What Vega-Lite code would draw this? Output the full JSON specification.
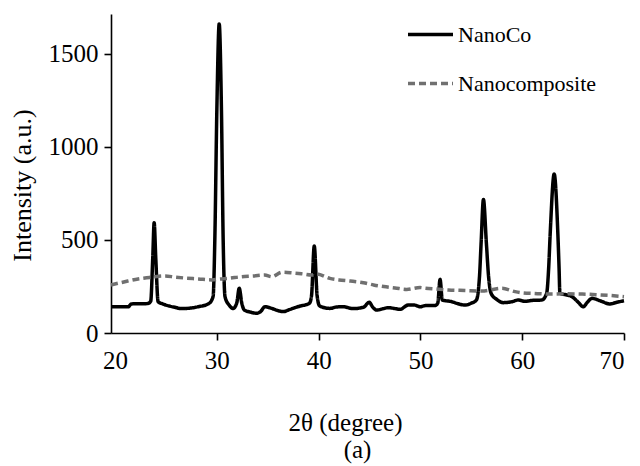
{
  "$schema": "https://vega.github.io/schema/vega-lite/v6.json",
  "width": 513,
  "height": 319,
  "autosize": {"type": "none"},
  "padding": {"left": 111, "top": 14, "right": 16, "bottom": 133},
  "background": "white",
  "title": {"text": "(a)", "orient": "bottom", "anchor": "middle", "frame": "group", "dx": -10, "offset": 3, "font": "Liberation Serif", "fontSize": 25, "fontWeight": "normal", "color": "black"},
  "config": {
    "font": "Liberation Serif",
    "view": {"stroke": null},
    "axis": {"grid": false, "domainColor": "black", "domainWidth": 1.6, "tickColor": "black", "tickWidth": 1.6, "tickSize": 7, "labelFont": "Liberation Serif", "labelFontSize": 25, "labelColor": "black", "titleFont": "Liberation Serif", "titleFontWeight": "normal", "titleColor": "black"},
    "axisX": {"labelFont": "Liberation Serif", "titleFont": "Liberation Serif"},
    "axisY": {"labelFont": "Liberation Serif", "titleFont": "Liberation Serif"},
    "legend": {"labelFont": "Liberation Serif", "titleFont": "Liberation Serif"},
    "title": {"font": "Liberation Serif"}
  },
  "data": {"values": [
    {"x": 19.6, "y": 141, "s": "NanoCo"},
    {"x": 21.3, "y": 141, "s": "NanoCo"},
    {"x": 21.6, "y": 156, "s": "NanoCo"},
    {"x": 23.2, "y": 158, "s": "NanoCo"},
    {"x": 23.5, "y": 170, "s": "NanoCo"},
    {"x": 23.7, "y": 400, "s": "NanoCo"},
    {"x": 23.84, "y": 592, "s": "NanoCo"},
    {"x": 24.0, "y": 400, "s": "NanoCo"},
    {"x": 24.23, "y": 168, "s": "NanoCo"},
    {"x": 24.7, "y": 156, "s": "NanoCo"},
    {"x": 25.3, "y": 145, "s": "NanoCo"},
    {"x": 25.87, "y": 138, "s": "NanoCo"},
    {"x": 26.5, "y": 131, "s": "NanoCo"},
    {"x": 27.3, "y": 133, "s": "NanoCo"},
    {"x": 28.16, "y": 141, "s": "NanoCo"},
    {"x": 29.15, "y": 156, "s": "NanoCo"},
    {"x": 29.5, "y": 177, "s": "NanoCo"},
    {"x": 29.64, "y": 200, "s": "NanoCo"},
    {"x": 29.8, "y": 500, "s": "NanoCo"},
    {"x": 30.0, "y": 1200, "s": "NanoCo"},
    {"x": 30.23, "y": 1659, "s": "NanoCo"},
    {"x": 30.45, "y": 1200, "s": "NanoCo"},
    {"x": 30.62, "y": 500, "s": "NanoCo"},
    {"x": 30.8, "y": 195, "s": "NanoCo"},
    {"x": 31.2, "y": 150, "s": "NanoCo"},
    {"x": 31.6, "y": 132, "s": "NanoCo"},
    {"x": 31.95, "y": 160, "s": "NanoCo"},
    {"x": 32.2, "y": 240, "s": "NanoCo"},
    {"x": 32.45, "y": 160, "s": "NanoCo"},
    {"x": 32.7, "y": 123, "s": "NanoCo"},
    {"x": 33.3, "y": 112, "s": "NanoCo"},
    {"x": 33.9, "y": 106, "s": "NanoCo"},
    {"x": 34.3, "y": 115, "s": "NanoCo"},
    {"x": 34.72, "y": 141, "s": "NanoCo"},
    {"x": 35.4, "y": 132, "s": "NanoCo"},
    {"x": 36.0, "y": 120, "s": "NanoCo"},
    {"x": 36.55, "y": 115, "s": "NanoCo"},
    {"x": 37.1, "y": 125, "s": "NanoCo"},
    {"x": 37.67, "y": 136, "s": "NanoCo"},
    {"x": 38.2, "y": 145, "s": "NanoCo"},
    {"x": 38.65, "y": 150, "s": "NanoCo"},
    {"x": 39.1, "y": 160, "s": "NanoCo"},
    {"x": 39.3, "y": 200, "s": "NanoCo"},
    {"x": 39.57, "y": 467, "s": "NanoCo"},
    {"x": 39.85, "y": 200, "s": "NanoCo"},
    {"x": 40.1, "y": 145, "s": "NanoCo"},
    {"x": 41.1, "y": 132, "s": "NanoCo"},
    {"x": 41.8, "y": 140, "s": "NanoCo"},
    {"x": 42.4, "y": 141, "s": "NanoCo"},
    {"x": 43.4, "y": 131, "s": "NanoCo"},
    {"x": 44.4, "y": 138, "s": "NanoCo"},
    {"x": 44.97, "y": 165, "s": "NanoCo"},
    {"x": 45.3, "y": 140, "s": "NanoCo"},
    {"x": 45.7, "y": 123, "s": "NanoCo"},
    {"x": 46.3, "y": 130, "s": "NanoCo"},
    {"x": 46.85, "y": 136, "s": "NanoCo"},
    {"x": 47.4, "y": 132, "s": "NanoCo"},
    {"x": 48.0, "y": 127, "s": "NanoCo"},
    {"x": 48.8, "y": 150, "s": "NanoCo"},
    {"x": 49.4, "y": 150, "s": "NanoCo"},
    {"x": 49.96, "y": 141, "s": "NanoCo"},
    {"x": 50.5, "y": 147, "s": "NanoCo"},
    {"x": 51.43, "y": 147, "s": "NanoCo"},
    {"x": 51.7, "y": 160, "s": "NanoCo"},
    {"x": 51.93, "y": 288, "s": "NanoCo"},
    {"x": 52.15, "y": 177, "s": "NanoCo"},
    {"x": 53.08, "y": 168, "s": "NanoCo"},
    {"x": 53.7, "y": 157, "s": "NanoCo"},
    {"x": 54.39, "y": 150, "s": "NanoCo"},
    {"x": 55.0, "y": 160, "s": "NanoCo"},
    {"x": 55.5, "y": 177, "s": "NanoCo"},
    {"x": 55.8, "y": 300, "s": "NanoCo"},
    {"x": 55.96, "y": 481, "s": "NanoCo"},
    {"x": 56.19, "y": 717, "s": "NanoCo"},
    {"x": 56.48, "y": 481, "s": "NanoCo"},
    {"x": 56.7, "y": 300, "s": "NanoCo"},
    {"x": 56.94, "y": 213, "s": "NanoCo"},
    {"x": 57.5, "y": 180, "s": "NanoCo"},
    {"x": 58.15, "y": 163, "s": "NanoCo"},
    {"x": 59.0, "y": 168, "s": "NanoCo"},
    {"x": 59.6, "y": 177, "s": "NanoCo"},
    {"x": 60.3, "y": 170, "s": "NanoCo"},
    {"x": 61.0, "y": 175, "s": "NanoCo"},
    {"x": 61.93, "y": 177, "s": "NanoCo"},
    {"x": 62.4, "y": 213, "s": "NanoCo"},
    {"x": 62.6, "y": 350, "s": "NanoCo"},
    {"x": 62.75, "y": 535, "s": "NanoCo"},
    {"x": 63.14, "y": 853, "s": "NanoCo"},
    {"x": 63.5, "y": 535, "s": "NanoCo"},
    {"x": 63.62, "y": 350, "s": "NanoCo"},
    {"x": 63.7, "y": 213, "s": "NanoCo"},
    {"x": 64.3, "y": 205, "s": "NanoCo"},
    {"x": 64.9, "y": 195, "s": "NanoCo"},
    {"x": 65.5, "y": 165, "s": "NanoCo"},
    {"x": 66.0, "y": 141, "s": "NanoCo"},
    {"x": 66.4, "y": 165, "s": "NanoCo"},
    {"x": 66.85, "y": 186, "s": "NanoCo"},
    {"x": 67.7, "y": 172, "s": "NanoCo"},
    {"x": 68.6, "y": 156, "s": "NanoCo"},
    {"x": 69.3, "y": 165, "s": "NanoCo"},
    {"x": 70.0, "y": 173, "s": "NanoCo"},
    {"x": 19.6, "y": 258, "s": "Nanocomposite"},
    {"x": 20.95, "y": 275, "s": "Nanocomposite"},
    {"x": 22.26, "y": 290, "s": "Nanocomposite"},
    {"x": 23.1, "y": 296, "s": "Nanocomposite"},
    {"x": 23.9, "y": 302, "s": "Nanocomposite"},
    {"x": 24.9, "y": 306, "s": "Nanocomposite"},
    {"x": 25.9, "y": 300, "s": "Nanocomposite"},
    {"x": 26.85, "y": 295, "s": "Nanocomposite"},
    {"x": 28.2, "y": 290, "s": "Nanocomposite"},
    {"x": 29.5, "y": 285, "s": "Nanocomposite"},
    {"x": 30.3, "y": 290, "s": "Nanocomposite"},
    {"x": 31.1, "y": 293, "s": "Nanocomposite"},
    {"x": 32.4, "y": 302, "s": "Nanocomposite"},
    {"x": 33.6, "y": 306, "s": "Nanocomposite"},
    {"x": 34.7, "y": 311, "s": "Nanocomposite"},
    {"x": 35.4, "y": 302, "s": "Nanocomposite"},
    {"x": 36.4, "y": 326, "s": "Nanocomposite"},
    {"x": 37.5, "y": 322, "s": "Nanocomposite"},
    {"x": 38.3, "y": 318, "s": "Nanocomposite"},
    {"x": 39.3, "y": 311, "s": "Nanocomposite"},
    {"x": 39.8, "y": 317, "s": "Nanocomposite"},
    {"x": 41.1, "y": 293, "s": "Nanocomposite"},
    {"x": 42.0, "y": 285, "s": "Nanocomposite"},
    {"x": 43.1, "y": 279, "s": "Nanocomposite"},
    {"x": 44.4, "y": 270, "s": "Nanocomposite"},
    {"x": 45.4, "y": 258, "s": "Nanocomposite"},
    {"x": 46.4, "y": 249, "s": "Nanocomposite"},
    {"x": 47.5, "y": 242, "s": "Nanocomposite"},
    {"x": 48.65, "y": 234, "s": "Nanocomposite"},
    {"x": 49.96, "y": 244, "s": "Nanocomposite"},
    {"x": 50.5, "y": 240, "s": "Nanocomposite"},
    {"x": 51.5, "y": 236, "s": "Nanocomposite"},
    {"x": 52.75, "y": 231, "s": "Nanocomposite"},
    {"x": 54.4, "y": 228, "s": "Nanocomposite"},
    {"x": 56.0, "y": 225, "s": "Nanocomposite"},
    {"x": 58.0, "y": 240, "s": "Nanocomposite"},
    {"x": 59.3, "y": 222, "s": "Nanocomposite"},
    {"x": 59.96, "y": 216, "s": "Nanocomposite"},
    {"x": 61.2, "y": 212, "s": "Nanocomposite"},
    {"x": 62.6, "y": 209, "s": "Nanocomposite"},
    {"x": 64.2, "y": 210, "s": "Nanocomposite"},
    {"x": 65.9, "y": 209, "s": "Nanocomposite"},
    {"x": 67.5, "y": 205, "s": "Nanocomposite"},
    {"x": 69.0, "y": 200, "s": "Nanocomposite"},
    {"x": 70.0, "y": 195, "s": "Nanocomposite"}
  ]},
  "mark": {"type": "line", "strokeWidth": 3.5, "interpolate": "monotone"},
  "encoding": {
    "x": {"field": "x", "type": "quantitative", "scale": {"domain": [19.6, 70], "nice": false, "zero": false},
      "axis": {"values": [20, 30, 40, 50, 60, 70], "format": "d", "labelFont": "Liberation Serif", "labelPadding": 8, "tickOpacity": {"condition": {"test": "datum.value == 20", "value": 0}, "value": 1},
        "title": "2θ (degree)", "titleFont": "Liberation Serif", "titleFontSize": 25, "titleX": 234, "titleY": 89, "titleBaseline": "middle", "titleAlign": "center"}},
    "y": {"field": "y", "type": "quantitative", "scale": {"domain": [0, 1712], "nice": false},
      "axis": {"values": [0, 500, 1000, 1500], "format": "d", "labelFont": "Liberation Serif", "labelPadding": 6, "title": "Intensity (a.u.)", "titleFont": "Liberation Serif", "titleFontSize": 26, "titleX": -89, "titleY": 171, "titleBaseline": "middle", "titleAlign": "center", "titleAngle": 270}},
    "color": {"field": "s", "type": "nominal", "scale": {"domain": ["NanoCo", "Nanocomposite"], "range": ["#000000", "#707070"]},
      "legend": {"title": null, "orient": "none", "legendX": 295, "legendY": -4, "symbolType": "stroke", "symbolSize": 2025, "symbolStrokeWidth": 3.5, "labelFont": "Liberation Serif", "labelFontSize": 22, "labelColor": "black", "labelOffset": 3, "rowPadding": 13, "padding": 0}},
    "strokeDash": {"field": "s", "type": "nominal", "scale": {"domain": ["NanoCo", "Nanocomposite"], "range": [[1, 0], [7, 4]]},
      "legend": {"title": null, "orient": "none", "legendX": 295, "legendY": -4, "symbolType": "stroke", "symbolSize": 2025, "symbolStrokeWidth": 3.5, "labelFont": "Liberation Serif", "labelFontSize": 22, "labelColor": "black", "labelOffset": 3, "rowPadding": 13, "padding": 0}}
  }
}
